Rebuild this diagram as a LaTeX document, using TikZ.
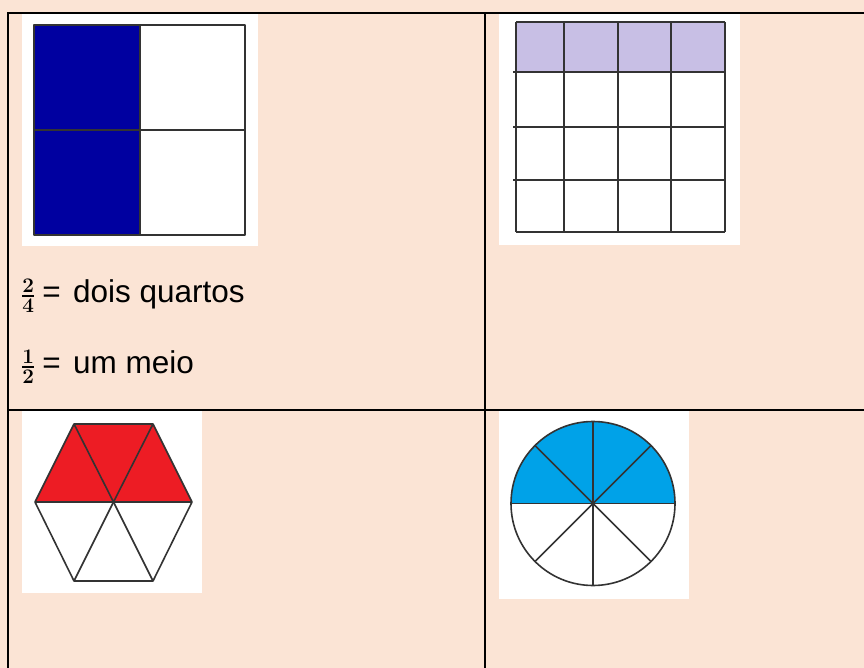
\documentclass[tikz,border=0pt]{standalone}
\usepackage{amsmath}
\usepackage[no-math]{fontspec}
\setmainfont{Liberation Sans}
\usetikzlibrary{positioning}
\definecolor{cellbg}{HTML}{FBE4D5}
\definecolor{navyfill}{HTML}{0000A0}
\definecolor{lilac}{HTML}{C8BFE5}
\definecolor{hexred}{HTML}{ED1C24}
\definecolor{skyfill}{HTML}{00A2E8}
\newcommand{\fr}[2]{$\genfrac{}{}{2.2pt}{1}{\mathbf{#1}}{\mathbf{#2}}$}
\newcommand{\eqsign}{\hspace{7pt}=\hspace{12.5pt}}
\tikzset{
  tabline/.style={line width=2pt, line cap=rect},
  figline/.style={draw=black!80, line width=1.6pt, line join=round},
  picbg/.style={fill=white},
  lbl/.style={font=\fontsize{31.5}{36}\selectfont, anchor=base west, inner sep=0pt},
}

\begin{document}
\begin{tikzpicture}[x=1pt, y=-1pt]
  \useasboundingbox (0,0) rectangle (864,668);
  \fill[cellbg] (0,0) rectangle (864,668);
  % white backgrounds of the four pictures
  \fill[picbg] (22,14) rectangle (258,246);
  \fill[picbg] (499,14) rectangle (740,245);
  \fill[picbg] (22,411) rectangle (202,593);
  \fill[picbg] (499,411) rectangle (689,599);
  % table rules
  \draw[tabline] (8,13) -- (864,13);
  \draw[tabline] (8,13) -- (8,668);
  \draw[tabline] (485,13) -- (485,668);
  \draw[tabline] (8,410) -- (864,410);

  % square in halves and quarters
  \fill[navyfill] (34,25) rectangle (140,235);
  \draw[figline] (34,25) rectangle (245,235);
  \draw[figline] (140,25) -- (140,235);
  \draw[figline] (34,130) -- (245,130);

  % labels
  \node[lbl] (dois) at (21,302) {\fr{2}{4}\eqsign dois quartos};
  \node[lbl] (meio) at (21,373) {\fr{1}{2}\eqsign um meio};

  % four by four grid, top row shaded
  \fill[lilac] (516,22) rectangle (725,72);
  \foreach \gx in {516,564,618,671,725}
    \draw[figline] (\gx,22) -- (\gx,232);
  \draw[figline] (516,22) -- (725,22);
  \foreach \gy in {72,127,180}
    \draw[figline] (513,\gy) -- (725,\gy);
  \draw[figline] (516,232) -- (725,232);

  % hexagon of six triangles
  \coordinate (hc) at (113.5,502);
  \coordinate (htl) at (74,424);
  \coordinate (htr) at (153,424);
  \coordinate (hr) at (192,502);
  \coordinate (hbr) at (153,581);
  \coordinate (hbl) at (74,581);
  \coordinate (hl) at (35,502);
  \fill[hexred] (hl) -- (htl) -- (htr) -- (hr) -- cycle;
  \draw[figline] (hl) -- (htl) -- (htr) -- (hr) -- (hbr) -- (hbl) -- cycle;
  \draw[figline] (hl) -- (hr);
  \foreach \p in {htl,htr,hbr,hbl}
    \draw[figline] (hc) -- (\p);

  % circle in eighths
  \def\R{82}
  \coordinate (cc) at (593,503.5);
  \fill[skyfill] (cc) ++(0:\R) arc[start angle=0, end angle=-180, radius=\R] -- cycle;
  \draw[figline] (cc) circle[radius=\R];
  \foreach \a in {0,45,...,315}
    \draw[figline] (cc) -- ++(\a:\R);
\end{tikzpicture}
\end{document}
